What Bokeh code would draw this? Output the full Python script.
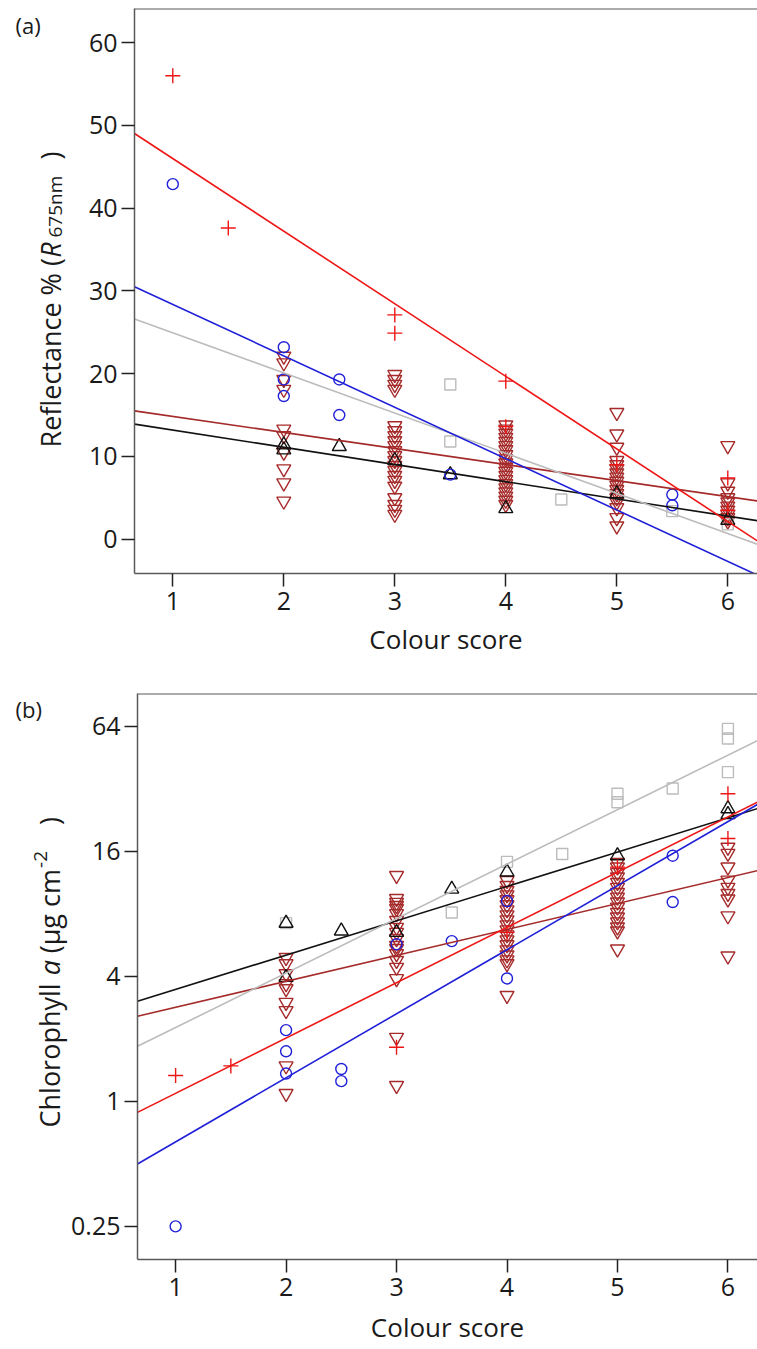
import numpy as np
from bokeh.plotting import figure
from bokeh.models import Range1d, FixedTicker, Span, CustomJSTickFormatter
from bokeh.layouts import column, row
from bokeh.embed import file_html
from bokeh.resources import INLINE
from bokeh.core.properties import value

FONT = "Open Sans"

# ---------------- data ----------------
x_ticks = [1, 2, 3, 4, 5, 6]
a_y_ticks = [0, 10, 20, 30, 40, 50, 60]
b_y_ticks = [0.25, 1, 4, 16, 64]

# Panel (a): reflectance %
red_x_a = [1, 1.5, 3, 3, 4, 4, 5, 6, 6]
red_y_a = [56.0, 37.6, 27.1, 24.9, 19.1, 13.6, 9.0, 7.4, 3.5]
blue_x_a = [1, 2, 2, 2, 2.5, 2.5, 3.5, 5.5, 5.5]
blue_y_a = [42.9, 23.2, 19.3, 17.3, 19.3, 15.0, 7.8, 5.4, 4.1]
gray_x_a = [3.5, 3.5, 4.5, 5.5, 6]
gray_y_a = [18.7, 11.8, 4.8, 3.4, 1.8]
black_x_a = [2, 2, 2.5, 3, 3.5, 4, 5, 6]
black_y_a = [11.4, 10.8, 11.2, 9.5, 7.8, 3.7, 5.5, 2.3]
brown_x_a = ([2] * 10 + [3] * 21 + [4] * 20 + [5] * 17 + [6] * 10)
brown_y_a = ([22.1, 21.3, 19.3, 18.1, 13.3, 12.5, 10.5, 8.5, 6.8, 4.6]
             + [19.9, 19.3, 18.7, 18.1, 13.7, 13.1, 12.5, 11.9, 11.3, 10.7, 10.1,
                9.5, 8.9, 8.3, 7.7, 7.1, 6.4, 5.0, 4.2, 3.6, 3.0]
             + [13.8, 13.3, 12.8, 12.3, 11.8, 11.3, 10.8, 10.2, 9.7, 9.2, 8.7,
                8.2, 7.7, 7.2, 6.7, 6.2, 5.7, 5.2, 4.7, 4.2]
             + [15.3, 12.7, 11.1, 9.5, 9.0, 8.5, 8.0, 7.5, 7.0, 6.5, 6.0, 5.5,
                5.0, 4.5, 3.8, 2.6, 1.6]
             + [11.3, 6.8, 5.8, 5.0, 4.5, 4.0, 3.5, 3.0, 2.6, 2.2])

# Panel (b): chlorophyll a (log scale)
red_x_b = [1, 1.5, 3, 4, 5, 6, 6]
red_y_b = [1.33, 1.48, 1.82, 6.5, 13.4, 30.2, 18.4]
blue_x_b = [1, 2, 2, 2, 2.5, 2.5, 3, 3.5, 4, 4, 5.5, 5.5]
blue_y_b = [0.25, 2.2, 1.74, 1.36, 1.43, 1.25, 5.7, 5.9, 3.9, 9.2, 15.2, 9.1]
gray_x_b = [2, 3.5, 4, 4.5, 5, 5, 5.5, 6, 6, 6]
gray_y_b = [7.2, 8.1, 14.2, 15.5, 30.2, 27.5, 32.0, 62.0, 55.7, 38.4]
black_x_b = [2, 2, 2.5, 3, 3.5, 4, 5, 6, 6]
black_y_b = [7.2, 3.95, 6.6, 6.5, 10.5, 12.7, 15.2, 25.6, 24.0]
brown_x_b = ([2] * 9 + [3] * 18 + [4] * 19 + [5] * 16 + [6] * 9)
brown_y_b = ([4.92, 4.59, 4.11, 3.68, 3.48, 2.99, 2.73, 1.48, 1.09]
             + [12.2, 9.45, 9.06, 8.75, 8.46, 8.0, 7.41, 6.87, 6.5, 6.06, 5.62,
                5.43, 5.13, 4.76, 4.41, 3.89, 2.03, 1.19]
             + [11.55, 10.93, 10.34, 9.85, 9.32, 8.82, 8.34, 7.89, 7.46, 7.06,
                6.68, 6.32, 5.98, 5.66, 5.35, 5.06, 4.79, 4.59, 3.23]
             + [14.1, 13.4, 12.6, 12.0, 11.3, 10.7, 10.1, 9.6, 9.1, 8.6, 8.1,
                7.7, 7.3, 6.9, 6.6, 5.4]
             + [16.7, 15.6, 13.4, 11.6, 10.7, 10.0, 9.4, 7.8, 5.0])

# regression lines: panel (a) linear y = a + b x ; panel (b) log2(y) = a + b x
line_groups = ["black", "brown", "gray", "red", "blue"]
a_intercepts = [15.27, 16.78, 29.79, 54.76, 34.58]
a_slopes = [-2.08, -1.94, -4.85, -8.77, -6.21]
b_log2_intercepts = [1.239, 1.087, 0.308, -0.757, -1.673]
b_log2_slopes = [0.549, 0.415, 0.871, 0.884, 1.024]

COLORS = {"red": "#ee1515", "blue": "#2020d8", "gray": "#bcbcbc",
          "black": "#111111", "brown": "#a52a2a"}
MARKERS = {"red": ("cross", 15), "blue": ("circle", 11), "gray": ("square", 11),
           "black": ("triangle", 14), "brown": ("inverted_triangle", 14)}

# ---------------- geometry ----------------
STRIP_W = 68          # left strip holding the rotated titles
MAIN_W = 757 - STRIP_W
LB = 66
FW = MAIN_W - LB
SX = 111.0
X0 = 0.655
X1 = X0 + FW / SX

HA, TA, FHA = 663, 8, 565
BA = HA - TA - FHA
YA0, YA1 = -4.14, 64.12

HB, TB, FHB = 686, 30, 566
BB = HB - TB - FHB
L0, L1 = -2.53, 6.52
YB0, YB1 = 2 ** L0, 2 ** L1

EM = {" ": .26, "%": .823, "(": .297, ")": .297, "R": .6, "e": .561, "f": .342,
      "l": .258, "c": .478, "t": .344, "a": .556, "n": .614, "m": .93,
      "6": .572, "7": .572, "5": .572, "2": .572, "-": .322, "C": .633,
      "h": .614, "o": .604, "r": .408, "p": .613, "y": .513, "μ": .62, "g": .541}


def em(s):
    return sum(EM.get(ch, .56) for ch in s)


def make_strip(height, fr_top, fr_bot, tag, tag_top, pieces, start_py):
    """Left strip; its frame is aligned with the panel frame (page px fr_top..fr_bot).
    y data = -page_y so that 1 unit = 1 px."""
    s = figure(width=STRIP_W, height=height, x_range=Range1d(0, STRIP_W),
               y_range=Range1d(-fr_bot, -fr_top), output_backend="svg",
               toolbar_location=None, x_axis_location=None, y_axis_location=None,
               min_border=0)
    s.outline_line_color = None
    s.xgrid.visible = False
    s.ygrid.visible = False
    s.text(x=[15], y=[-tag_top], text=[tag], text_align="left",
           text_baseline="top", text_font=value(FONT), text_font_size=value("22px"),
           text_color="#1a1a1a")
    pos = start_py
    for text, size, sty, cx, gap in pieces:
        pos -= gap
        s.text(x=[cx], y=[-pos], text=[text], angle=np.pi / 2,
               text_align="left", text_baseline="middle",
               text_font=value(FONT), text_font_size=value(f"{size}px"),
               text_font_style=sty, text_color="#1a1a1a")
        pos -= em(text) * size
    return s


def style(p, yticks, label_standoff):
    p.outline_line_color = None
    p.xgrid.visible = False
    p.ygrid.visible = False
    p.background_fill_color = "white"
    p.border_fill_color = "white"
    for ax in (p.xaxis[0], p.yaxis[0]):
        ax.axis_line_color = "#5a5a5a"
        ax.axis_line_width = 1.5
        ax.major_tick_line_color = "#222222"
        ax.major_tick_line_width = 1.5
        ax.major_tick_out = 13
        ax.major_tick_in = 0
        ax.minor_tick_line_color = None
        ax.major_label_text_font = FONT
        ax.major_label_text_font_size = "25px"
        ax.major_label_text_color = "#1a1a1a"
    p.xaxis[0].ticker = FixedTicker(ticks=x_ticks)
    p.yaxis[0].ticker = FixedTicker(ticks=yticks)
    p.xaxis[0].major_label_standoff = 5
    p.yaxis[0].major_label_standoff = 4
    p.xaxis[0].axis_label = "Colour score"
    p.xaxis[0].axis_label_text_font = FONT
    p.xaxis[0].axis_label_text_font_size = "26px"
    p.xaxis[0].axis_label_text_font_style = "normal"
    p.xaxis[0].axis_label_text_color = "#1a1a1a"
    p.xaxis[0].axis_label_standoff = label_standoff


def scatter_groups(p, groups):
    for name, xs, ys in groups:
        mk, sz = MARKERS[name]
        p.scatter(xs, ys, marker=mk, size=sz, line_color=COLORS[name],
                  fill_color=None, line_width=1.4)


xe = np.array([X0, X1])

# ---------------- panel (a) ----------------
pa = figure(width=MAIN_W, height=HA, x_range=Range1d(X0, X1), y_range=Range1d(YA0, YA1),
            output_backend="svg", toolbar_location=None,
            min_border_left=LB, min_border_right=0, min_border_top=TA,
            min_border_bottom=BA)
style(pa, a_y_ticks, 8)
pa.add_layout(Span(location=YA1, dimension="width", line_color="#5a5a5a", line_width=2))
scatter_groups(pa, [("brown", brown_x_a, brown_y_a), ("gray", gray_x_a, gray_y_a),
                    ("black", black_x_a, black_y_a), ("blue", blue_x_a, blue_y_a),
                    ("red", red_x_a, red_y_a)])
for g, a, b in zip(line_groups, a_intercepts, a_slopes):
    pa.line(xe, a + b * xe, line_color=COLORS[g], line_width=1.6)

sa = make_strip(HA, TA, TA + FHA, "(a)", 9,
                [("Reflectance % (", 27, "normal", 49.5, 0),
                 ("R", 27, "italic", 49.5, 1),
                 ("675nm", 19, "normal", 54, 4),
                 (")", 27, "normal", 49.5, 16)], 447)

# ---------------- panel (b) ----------------
pb = figure(width=MAIN_W, height=HB, x_range=Range1d(X0, X1), y_range=Range1d(YB0, YB1),
            y_axis_type="log", output_backend="svg", toolbar_location=None,
            min_border_left=LB, min_border_right=0, min_border_top=TB,
            min_border_bottom=BB)
style(pb, b_y_ticks, 10)
pb.yaxis[0].formatter = CustomJSTickFormatter(code="return String(tick);")
pb.add_layout(Span(location=YB1, dimension="width", line_color="#5a5a5a", line_width=2))
scatter_groups(pb, [("brown", brown_x_b, brown_y_b), ("gray", gray_x_b, gray_y_b),
                    ("black", black_x_b, black_y_b), ("blue", blue_x_b, blue_y_b),
                    ("red", red_x_b, red_y_b)])
for g, a, b in zip(line_groups, b_log2_intercepts, b_log2_slopes):
    pb.line(xe, 2.0 ** (a + b * xe), line_color=COLORS[g], line_width=1.6)

# strip (b) works in coordinates local to figure (b): page_y - HA
sb = make_strip(HB, TB, TB + FHB, "(b)", 693 - HA,
                [("Chlorophyll", 27, "normal", 49, 0),
                 ("a", 27, "italic", 49, 7),
                 ("(μg cm", 27, "normal", 49, 7),
                 ("-2", 19, "normal", 40, 1),
                 (")", 27, "normal", 49, 26)], 1127 - HA)

layout = column(row(sa, pa, spacing=0), row(sb, pb, spacing=0), spacing=0)
open("out.html", "w").write(file_html(layout, INLINE))
